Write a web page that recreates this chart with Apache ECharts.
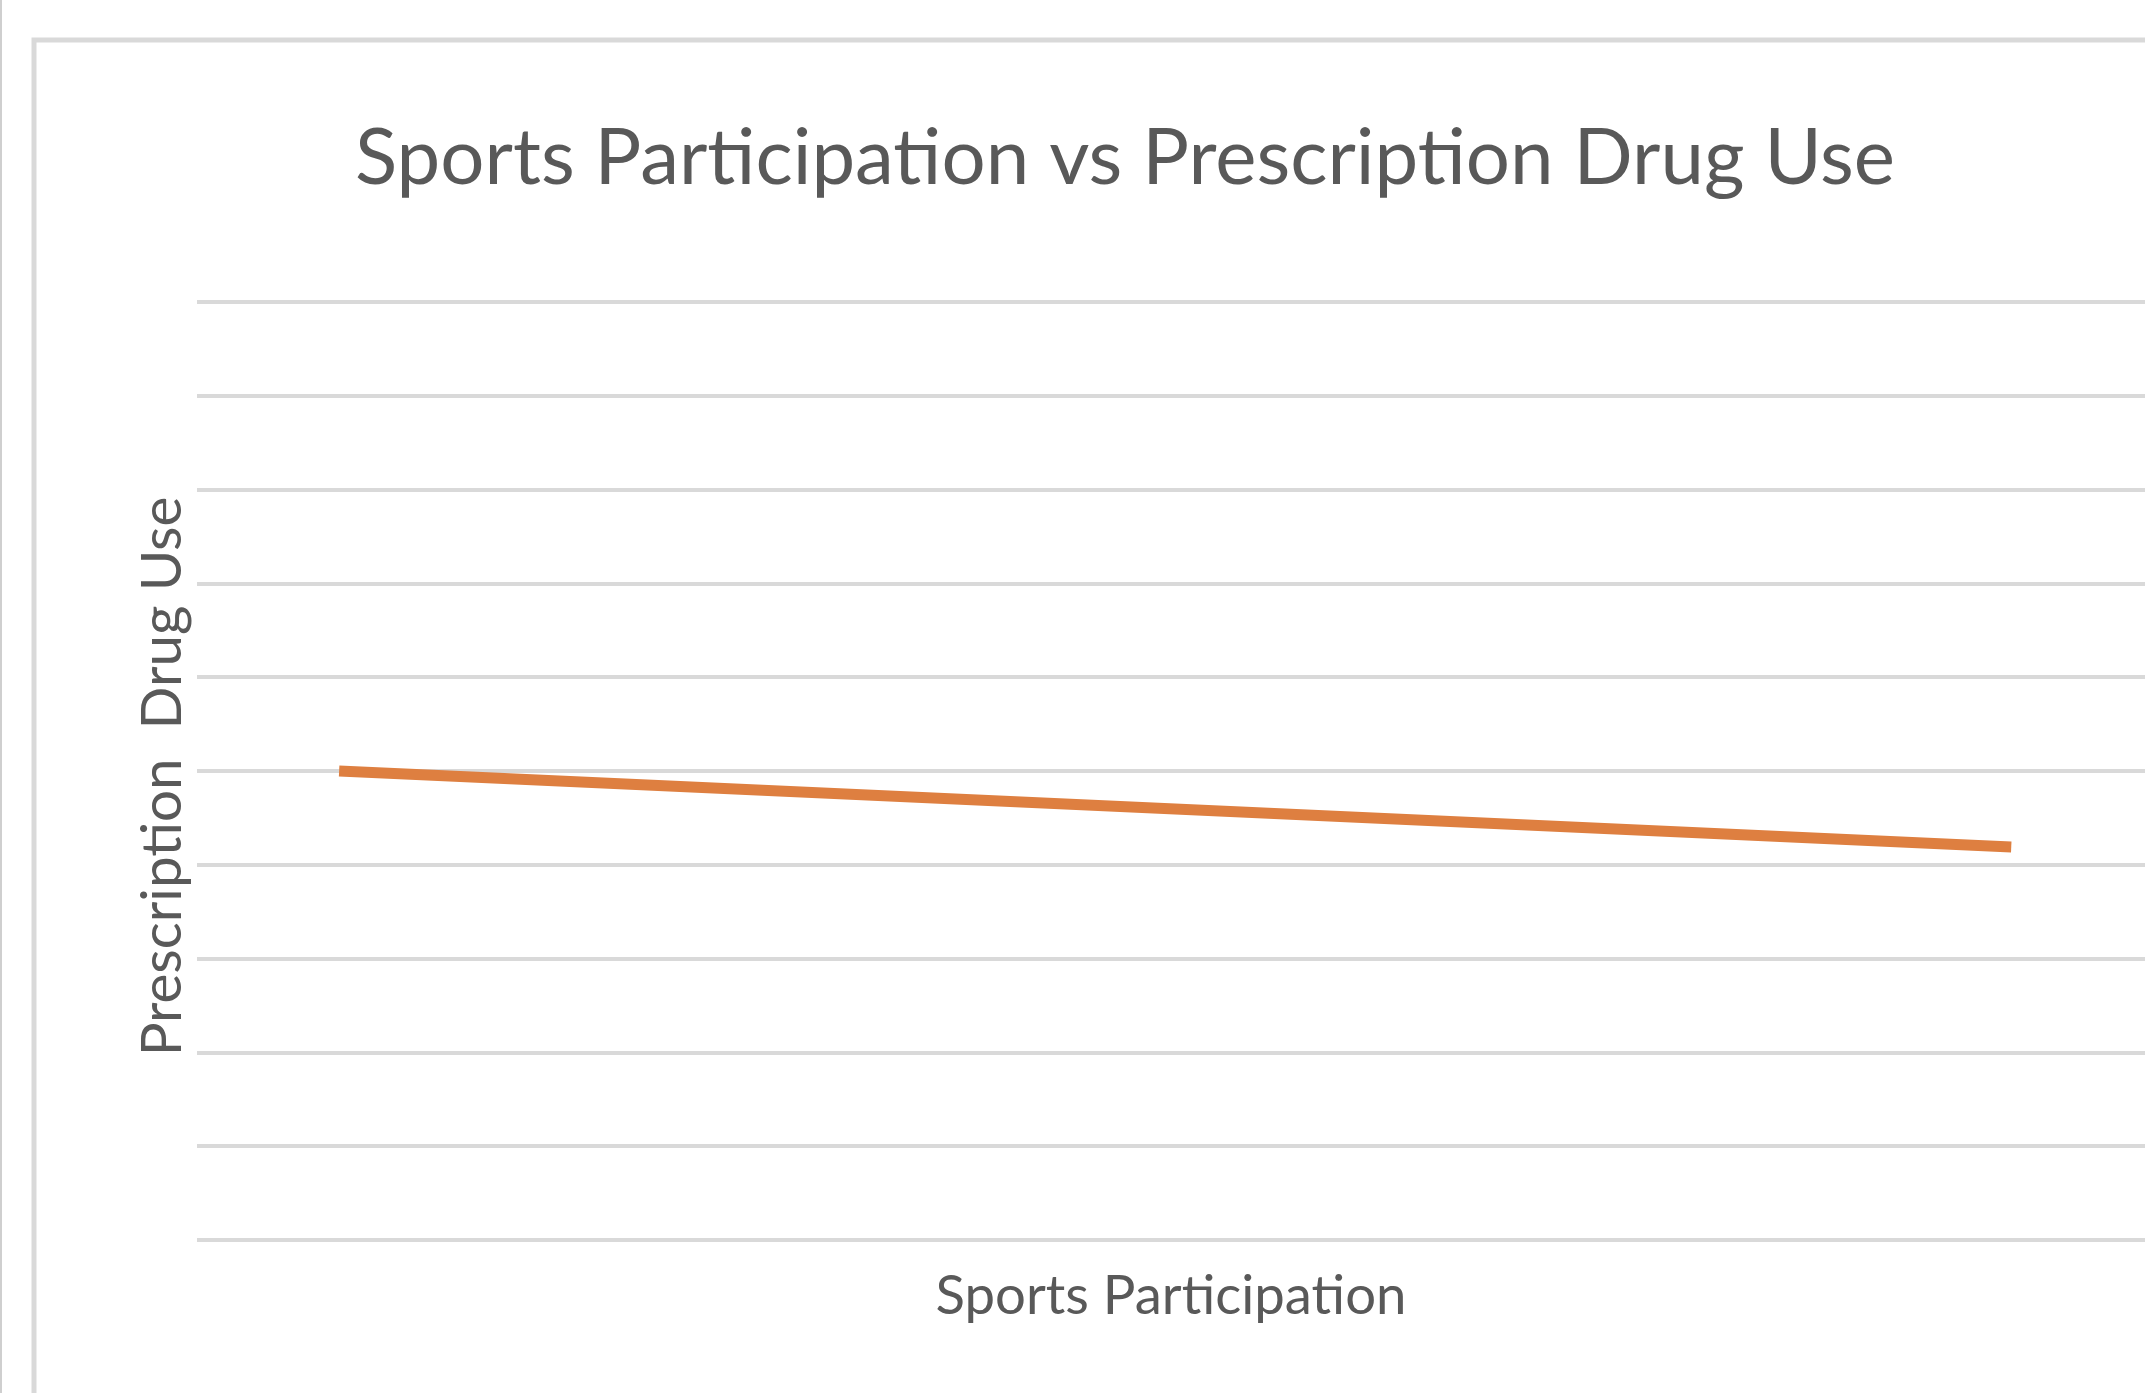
<!DOCTYPE html>
<html>
<head>
<meta charset="utf-8">
<script src="https://cdn.jsdelivr.net/npm/echarts@6/dist/echarts.min.js"></script>
<style>
html,body{margin:0;padding:0;background:#fff;}
#chart{width:2145px;height:1393px;}
</style>
</head>
<body>
<div id="chart"></div>
<script>
// ---- data ----
const chartTitle = 'Sports Participation vs Prescription Drug Use';
const xAxisName = 'Sports Participation';
const yAxisName = 'Prescription  Drug Use';
const sportsParticipation = [1, 7];
const drugUse = [5.0, 4.19];
const yMin = 0, yMax = 10, yInterval = 1;
const xMin = 0.49, xMax = 7.48;

const FONT = 'Lato, "Liberation Sans", sans-serif';
const chart = echarts.init(document.getElementById('chart'), null, {renderer: 'canvas'});
chart.setOption({
  backgroundColor: '#ffffff',
  animation: false,
  title: {
    text: chartTitle,
    left: 1120,
    textAlign: 'center',
    top: 115,
    textStyle: {fontFamily: FONT, fontSize: 78, fontWeight: 'normal', color: '#595959'}
  },
  graphic: [
    {type: 'line', shape: {x1: 1, y1: 0, x2: 1, y2: 1393}, style: {stroke: '#cfcfcf', lineWidth: 2}},
    {type: 'rect', shape: {x: 34, y: 40, width: 2300, height: 1500}, style: {fill: 'none', stroke: '#d9d9d9', lineWidth: 5}}
  ],
  grid: {left: 197, right: 0, top: 302, bottom: 153, containLabel: false},
  xAxis: {
    type: 'value', min: xMin, max: xMax,
    name: xAxisName, nameLocation: 'middle', nameGap: 29,
    nameTextStyle: {fontFamily: FONT, fontSize: 54.5, color: '#595959'},
    axisLine: {show: false}, axisTick: {show: false}, axisLabel: {show: false}, splitLine: {show: false}
  },
  yAxis: {
    type: 'value', min: yMin, max: yMax, interval: yInterval,
    name: yAxisName, nameLocation: 'middle', nameGap: 6,
    nameTextStyle: {fontFamily: FONT, fontSize: 56.5, color: '#595959', padding: [0, 11, 0, 0]},
    axisLine: {show: false}, axisTick: {show: false}, axisLabel: {show: false},
    splitLine: {show: true, lineStyle: {color: '#d9d9d9', width: 4}}
  },
  series: [{
    type: 'line',
    data: sportsParticipation.map((x, i) => [x, drugUse[i]]),
    showSymbol: false,
    lineStyle: {color: '#DE7F40', width: 11, cap: 'butt'}
  }]
});
</script>
</body>
</html>
